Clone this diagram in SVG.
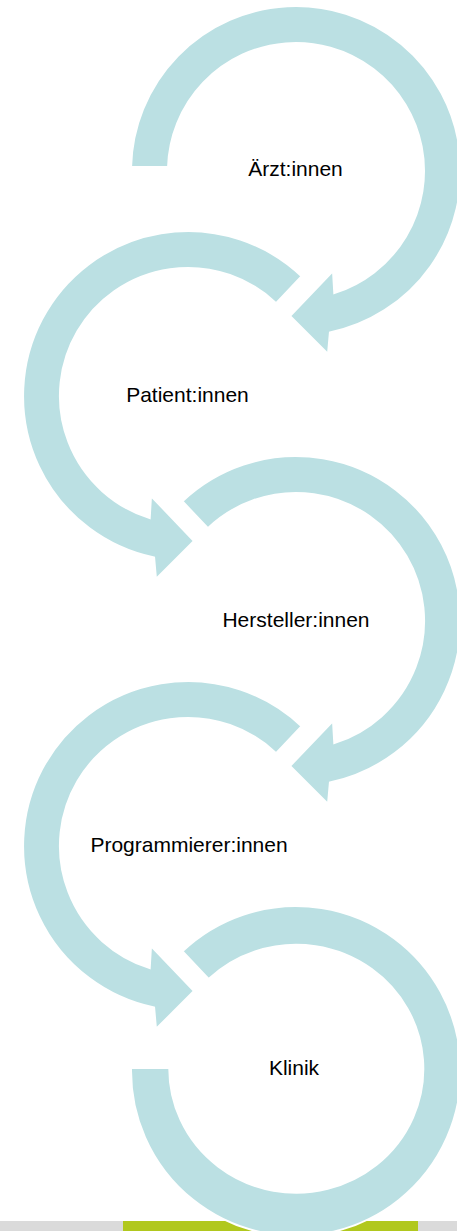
<svg xmlns="http://www.w3.org/2000/svg" width="457" height="1231" viewBox="0 0 457 1231">
  <style>
    .arc { fill: #BBE0E3; stroke: #FFFFFF; stroke-width: 2; stroke-linejoin: miter; }
    .lbl { font-family: "Liberation Sans", Arial, sans-serif; font-size: 21px; fill: #000000; text-anchor: middle; }
  </style>
  <rect width="457" height="1231" fill="#FFFFFF"/>
  <g id="footer-bar">
    <rect x="0" y="1221" width="123" height="10" fill="#DADADA"/>
    <rect x="123" y="1221" width="295" height="10" fill="#B1C81E"/>
    <rect x="418" y="1221" width="39" height="10" fill="#DADADA"/>
  </g>
  <g id="connectors"></g>
  <g id="node-aerzt">
    <path class="arc" d="M 131.05,167 A 165 165 0 1 1 329.9,332.5 L 328,354 L 290,316 L 333,271 L 334.3,293.1 A 128 128 0 1 0 168.06,167 Z"/>
    <text class="lbl" x="295.5" y="176">Ärzt:innen</text>
  </g>
  <g id="node-patient">
    <path class="arc" d="M 301.6,276.3 A 165 165 0 1 0 154.1,557.5 L 156,579 L 194,541 L 151,496 L 149.7,518.1 A 128 128 0 1 1 276.1,303.15 Z"/>
    <text class="lbl" x="187.5" y="402">Patient:innen</text>
  </g>
  <g id="node-hersteller">
    <path class="arc" d="M 182.4,501.3 A 165 165 0 1 1 329.9,782.5 L 328,804 L 290,766 L 333,721 L 334.3,743.1 A 128 128 0 1 0 207.9,528.15 Z"/>
    <text class="lbl" x="296" y="627">Hersteller:innen</text>
  </g>
  <g id="node-programmierer">
    <path class="arc" d="M 301.6,726.3 A 165 165 0 1 0 154.1,1007.5 L 156,1029 L 194,991 L 151,946 L 149.7,968.1 A 128 128 0 1 1 276.1,753.15 Z"/>
    <text class="lbl" x="189" y="852">Programmierer:innen</text>
  </g>
  <g id="node-klinik">
    <path class="arc" d="M 182.4,951.3 A 165 165 0 1 1 131.03,1068 L 169.3,1068 A 127 124 0 1 0 208.6,979.05 Z"/>
    <text class="lbl" x="294" y="1075">Klinik</text>
  </g>
</svg>
